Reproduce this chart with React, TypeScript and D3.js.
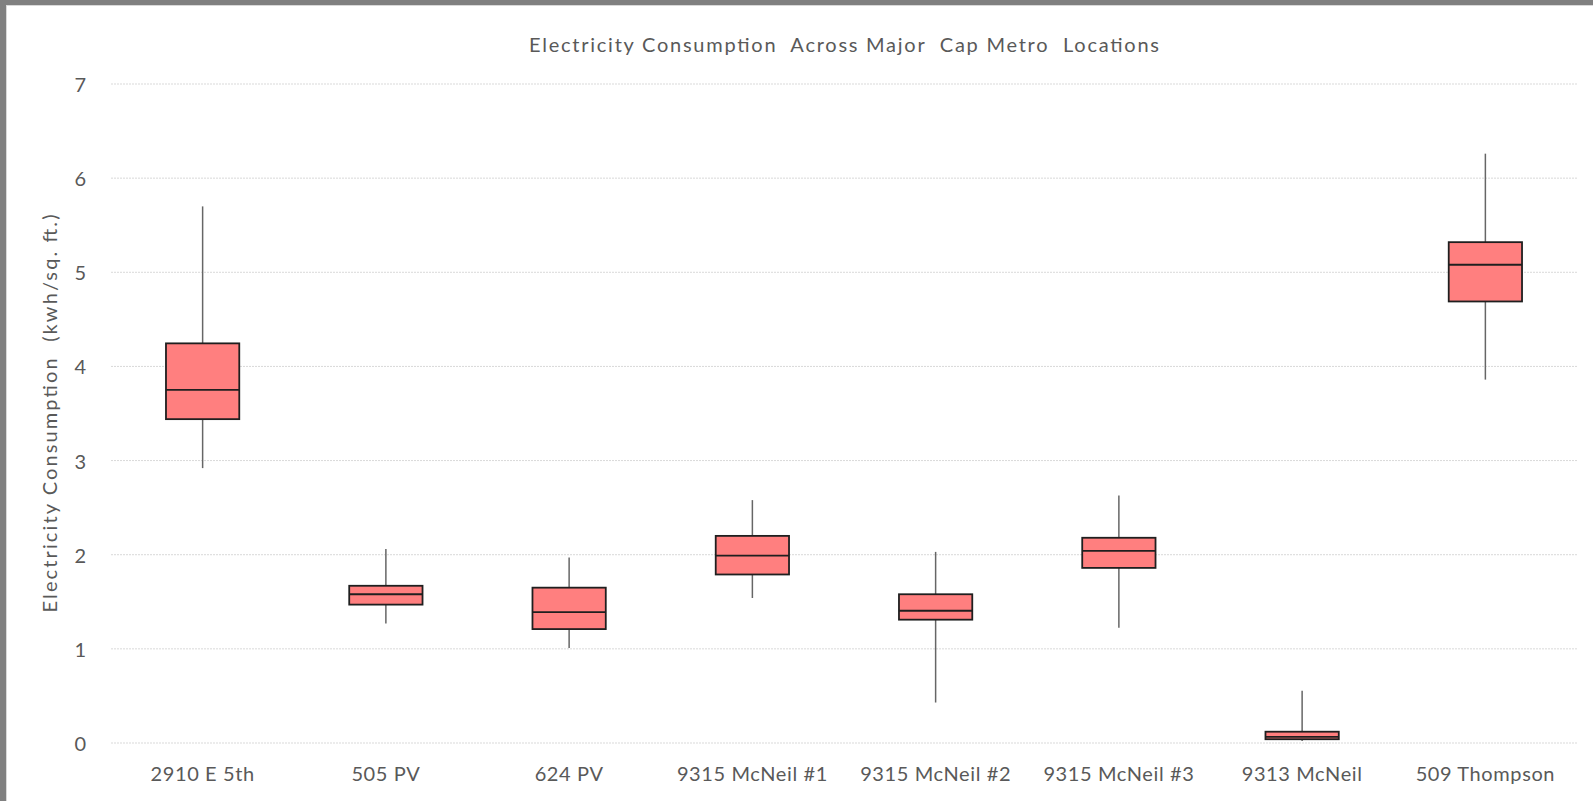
import React from "react";
import * as d3 from "d3";

const categories = ["2910 E 5th", "505 PV", "624 PV", "9315 McNeil #1", "9315 McNeil #2", "9315 McNeil #3", "9313 McNeil", "509 Thompson"];
const mins = [2.92, 1.27, 1.01, 1.54, 0.43, 1.225, 0.02, 3.86];
const q1s = [3.44, 1.47, 1.21, 1.79, 1.31, 1.86, 0.04, 4.69];
const medians = [3.75, 1.58, 1.39, 1.99, 1.405, 2.04, 0.065, 5.08];
const q3s = [4.245, 1.67, 1.65, 2.2, 1.58, 2.18, 0.12, 5.32];
const maxs = [5.7, 2.06, 1.97, 2.58, 2.03, 2.63, 0.555, 6.26];
const yTicks = [0, 1, 2, 3, 4, 5, 6, 7];

const W = 1593;
const H = 801;
const FONT = "Lato, 'Open Sans', sans-serif";
const TXT = "#595959";

export default function App() {
  const x = d3.scaleBand<string>().domain(categories).range([111, 1577]).padding(0);
  const y = d3.scaleLinear().domain([0, 7]).range([743, 84]);
  const bw = x.bandwidth() * 0.4;

  return (
    <svg width={W} height={H} style={{ position: "absolute", left: 0, top: 0, display: "block" }}>
      <rect x={0} y={0} width={W} height={H} fill="#ffffff" />
      <rect x={0} y={0} width={W} height={5} fill="#808080" />
      <rect x={0} y={0} width={6} height={H} fill="#808080" />
      <line x1={6.5} y1={5} x2={6.5} y2={H} stroke="#d9d9d9" strokeWidth={1} />
      <line x1={6} y1={5.5} x2={W} y2={5.5} stroke="#d9d9d9" strokeWidth={1} />

      <text x={(111 + 1577) / 2} y={47} textAnchor="middle" dominantBaseline="middle" fontFamily={FONT} fontSize={20} fill={TXT} textLength={630} lengthAdjust="spacing" style={{ whiteSpace: "pre" }}>
        {"Electricity Consumption  Across Major  Cap Metro  Locations"}
      </text>

      {yTicks.map((t) => (
        <g key={t}>
          <line x1={111} x2={1577} y1={y(t)} y2={y(t)} stroke="#d9d9d9" strokeWidth={1} strokeDasharray="2,1" />
          <text x={86} y={y(t)} textAnchor="end" dominantBaseline="central" fontFamily={FONT} fontSize={20} fill={TXT}>
            {t}
          </text>
        </g>
      ))}

      <text transform={`translate(49, ${(y(0) + y(7)) / 2}) rotate(-90)`} textAnchor="middle" dominantBaseline="central" fontFamily={FONT} fontSize={20} fill={TXT} textLength={398} lengthAdjust="spacing" style={{ whiteSpace: "pre" }}>
        {"Electricity Consumption  (kwh/sq. ft.)"}
      </text>

      {categories.map((c, i) => {
        const cx = (x(c) as number) + x.bandwidth() / 2;
        return (
          <g key={c}>
            <line x1={cx} x2={cx} y1={y(maxs[i])} y2={y(q3s[i])} stroke="#666666" strokeWidth={1.5} />
            <line x1={cx} x2={cx} y1={y(q1s[i])} y2={y(mins[i])} stroke="#666666" strokeWidth={1.5} />
            <rect x={cx - bw / 2} y={y(q3s[i])} width={bw} height={y(q1s[i]) - y(q3s[i])} fill="#ff7f7f" stroke="#1f1f1f" strokeWidth={1.8} />
            <line x1={cx - bw / 2} x2={cx + bw / 2} y1={y(medians[i])} y2={y(medians[i])} stroke="#1f1f1f" strokeWidth={1.8} />
            <text x={cx} y={773} textAnchor="middle" dominantBaseline="central" fontFamily={FONT} fontSize={20} letterSpacing={0.6} fill={TXT}>
              {c}
            </text>
          </g>
        );
      })}
    </svg>
  );
}
